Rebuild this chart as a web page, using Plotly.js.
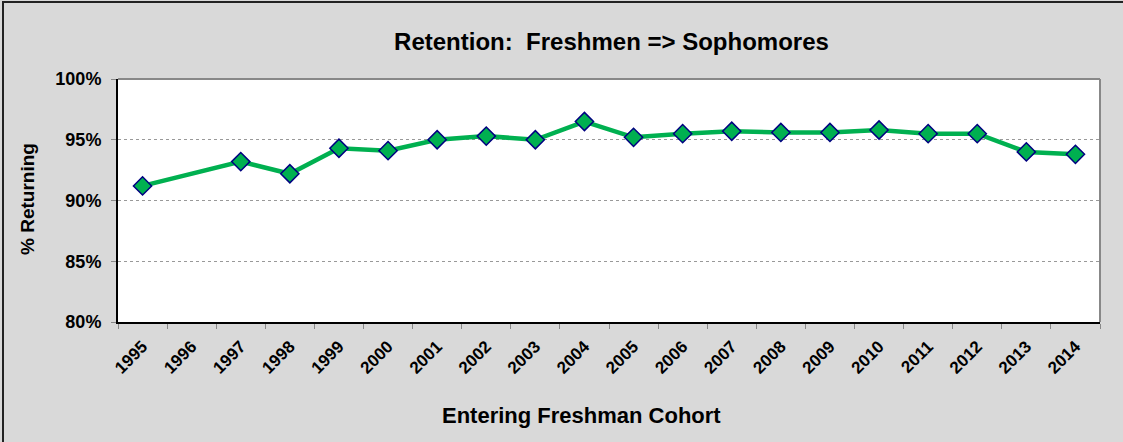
<!DOCTYPE html>
<html>
<head>
<meta charset="utf-8">
<script src="https://cdn.plot.ly/plotly-3.0.1.min.js"></script>
<style>
html,body{margin:0;padding:0;background:#d9d9d9;overflow:hidden;}
#wrap{position:relative;width:1123px;height:442px;overflow:hidden;}
#chart{width:1123px;height:442px;}
#frame{position:absolute;left:2px;top:1px;width:1130px;height:450px;border-left:2px solid #222;border-top:2px solid #222;pointer-events:none;}
</style>
</head>
<body>
<div id="wrap"><div id="chart"></div><div id="frame"></div></div>
<script>
const cohorts = ['1995','1996','1997','1998','1999','2000','2001','2002','2003','2004','2005','2006','2007','2008','2009','2010','2011','2012','2013','2014'];
const retention = [91.2, null, 93.2, 92.2, 94.3, 94.1, 95.0, 95.3, 95.0, 96.5, 95.2, 95.5, 95.7, 95.6, 95.6, 95.8, 95.5, 95.5, 94.0, 93.8];
const yTicks = [80, 85, 90, 95, 100];
const yTickLabels = ['80%', '85%', '90%', '95%', '100%'];
const chartTitle = 'Retention:  Freshmen => Sophomores';
const xTitle = 'Entering Freshman Cohort';
const yTitle = '% Returning';

const F = 'Liberation Sans, Arial, sans-serif';
const trace = {
  type: 'scatter', mode: 'lines+markers',
  x: cohorts, y: retention, connectgaps: true,
  line: {color: '#00b050', width: 4.5},
  marker: {symbol: 'diamond', size: 14, color: '#00b050', line: {color: '#000080', width: 1.5}},
  hoverinfo: 'x+y'
};
const layout = {
  width: 1123, height: 442,
  paper_bgcolor: '#d9d9d9', plot_bgcolor: '#ffffff',
  margin: {l: 118, r: 23, t: 79, b: 120},
  showlegend: false,
  title: {text: '<b>' + chartTitle + '</b>', font: {family: F, size: 24, color: '#000'}, x: 0.5445, xanchor: 'center', y: 0.905, yanchor: 'middle'},
  xaxis: {
    type: 'category', range: [-0.5, cohorts.length - 0.5], tickangle: -45, tickson: 'boundaries',
    ticks: 'outside', ticklen: 5, tickcolor: '#888', tickwidth: 1,
    ticklabelstandoff: 6,
    showline: true, linecolor: '#000', linewidth: 2,
    showgrid: false, zeroline: false,
    tickfont: {family: F, size: 17, color: '#000', weight: 'bold'},
    automargin: false, fixedrange: true
  },
  yaxis: {
    range: [80, 100], tickvals: yTicks, ticktext: yTickLabels,
    ticks: 'outside', ticklen: 5, tickcolor: '#888', tickwidth: 1,
    ticklabelstandoff: 6,
    showline: true, linecolor: '#000', linewidth: 2,
    showgrid: true, gridcolor: '#999', griddash: 'dot', gridwidth: 1,
    zeroline: false,
    tickfont: {family: F, size: 18, color: '#000', weight: 'bold'},
    automargin: false, fixedrange: true
  },
  annotations: [
    {text: '<b>' + xTitle + '</b>', xref: 'paper', yref: 'paper', x: (581.5 - 118) / 982, y: -(415 - 322) / 243, xanchor: 'center', yanchor: 'middle', showarrow: false, font: {family: F, size: 22, color: '#000'}},
    {text: '<b>' + yTitle + '</b>', xref: 'paper', yref: 'paper', x: (27 - 118) / 982, y: (322 - 199) / 243, xanchor: 'center', yanchor: 'middle', textangle: -90, showarrow: false, font: {family: F, size: 19, color: '#000'}}
  ],
  shapes: [
    {type: 'line', xref: 'paper', yref: 'paper', x0: 0, x1: 1, y0: 1, y1: 1, line: {color: '#888', width: 2}},
    {type: 'line', xref: 'paper', yref: 'paper', x0: 1, x1: 1, y0: 0, y1: 1, line: {color: '#888', width: 2}}
  ]
};
Plotly.newPlot('chart', [trace], layout, {displayModeBar: false, staticPlot: true});
</script>
</body>
</html>
